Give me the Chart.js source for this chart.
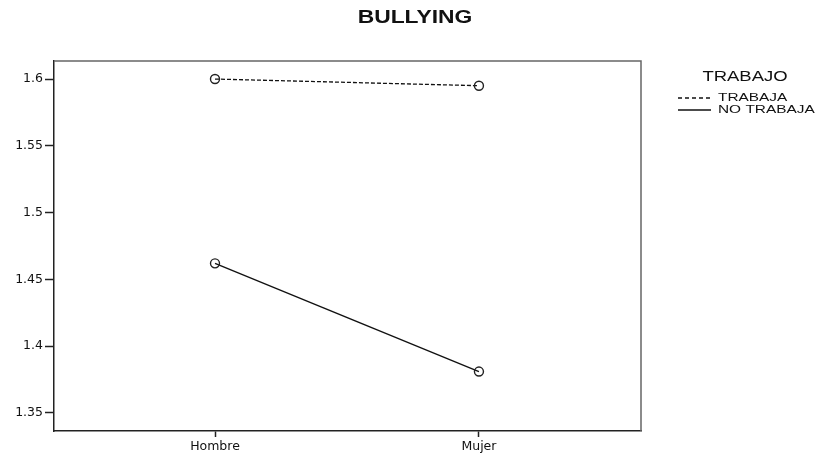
<!DOCTYPE html>
<html>
<head>
<meta charset="utf-8">
<script src="https://cdn.jsdelivr.net/npm/chart.js@4"></script>
<style>
  html, body { margin: 0; padding: 0; background: #fff; }
  #wrap { width: 816px; height: 455px; }
</style>
</head>
<body>
<div id="wrap"><canvas id="chart" width="816" height="455"></canvas></div>
<script>
// Chart values
const categories = ['Hombre', 'Mujer'];
const trabaja = [1.600, 1.595];
const noTrabaja = [1.462, 1.381];
const yTicks = [1.35, 1.4, 1.45, 1.5, 1.55, 1.6];
const chartTitle = 'BULLYING';
const legendTitle = 'TRABAJO';
const seriesNames = ['TRABAJA', 'NO TRABAJA'];

// draws stretched text (the source picture is wider than normal Arial)
function stretchText(ctx, text, x, y, font, sx, align) {
    ctx.save();
    ctx.font = font;
    ctx.fillStyle = '#111';
    ctx.textBaseline = 'middle';
    ctx.textAlign = align;
    ctx.translate(x, y);
    ctx.scale(sx, 1);
    ctx.fillText(text, 0, 0);
    ctx.restore();
}

const decorPlugin = {
    id: 'decor',
    afterDraw(chart) {
        const ctx = chart.ctx;
        const a = chart.chartArea;

        // top and right edges of the frame
        ctx.save();
        ctx.strokeStyle = '#666';
        ctx.lineWidth = 1.5;
        ctx.beginPath();
        ctx.moveTo(a.left, a.top);
        ctx.lineTo(a.right, a.top);
        ctx.lineTo(a.right, a.bottom);
        ctx.stroke();
        ctx.restore();

        stretchText(ctx, chartTitle, 415, 18, 'bold 18px "Liberation Sans"', 1.27, 'center');
        stretchText(ctx, legendTitle, 745, 77, '14px "Liberation Sans"', 1.32, 'center');

        chart.data.datasets.forEach((ds, i) => {
            const y = 98 + i * 12;
            ctx.save();
            ctx.strokeStyle = '#111';
            ctx.lineWidth = 1.5;
            ctx.setLineDash(ds.borderDash ? [4, 3] : []);
            ctx.beginPath();
            ctx.moveTo(678, y);
            ctx.lineTo(711, y);
            ctx.stroke();
            ctx.restore();
            stretchText(ctx, ds.label, 718, y, '11px "Liberation Sans"', 1.4, 'left');
        });
    }
};

const toPoints = arr => arr.map((v, i) => ({ x: i, y: v }));

new Chart(document.getElementById('chart'), {
    type: 'line',
    data: {
        datasets: [{
            label: seriesNames[0],
            data: toPoints(trabaja),
            borderColor: '#111',
            borderWidth: 1.3,
            borderDash: [4, 2],
            pointRadius: 4.5,
            pointBorderColor: '#222',
            pointBackgroundColor: 'rgba(0,0,0,0)',
            pointBorderWidth: 1.4
        }, {
            label: seriesNames[1],
            data: toPoints(noTrabaja),
            borderColor: '#111',
            borderWidth: 1.4,
            pointRadius: 4.5,
            pointBorderColor: '#222',
            pointBackgroundColor: 'rgba(0,0,0,0)',
            pointBorderWidth: 1.4
        }]
    },
    options: {
        responsive: false,
        animation: false,
        layout: { padding: { top: 61, right: 175, bottom: 0, left: 0 } },
        plugins: {
            legend: { display: false },
            title: { display: false },
            tooltip: { enabled: false }
        },
        scales: {
            x: {
                type: 'linear',
                min: -0.61,
                max: 1.614,
                afterFit: scale => { scale.height = 24; },
                afterBuildTicks: scale => {
                    scale.ticks = categories.map((c, i) => ({ value: i }));
                },
                border: { display: true, color: '#222', width: 1.5 },
                grid: { drawOnChartArea: false, tickLength: 6, tickColor: '#222', tickWidth: 1.5 },
                ticks: {
                    padding: 2,
                    color: '#111',
                    font: { family: 'DejaVu Sans', size: 12.5 },
                    callback: v => categories[v]
                }
            },
            y: {
                min: 1.3365,
                max: 1.6135,
                afterFit: scale => { scale.width = 54; },
                afterBuildTicks: scale => {
                    scale.ticks = yTicks.map(v => ({ value: v }));
                },
                border: { display: true, color: '#222', width: 1.5 },
                grid: { drawOnChartArea: false, tickLength: 9, tickColor: '#222', tickWidth: 1.5 },
                ticks: {
                    padding: 2,
                    color: '#111',
                    font: { family: 'DejaVu Sans', size: 12.5 },
                    callback: v => String(v)
                }
            }
        }
    },
    plugins: [decorPlugin]
});
</script>
</body>
</html>
